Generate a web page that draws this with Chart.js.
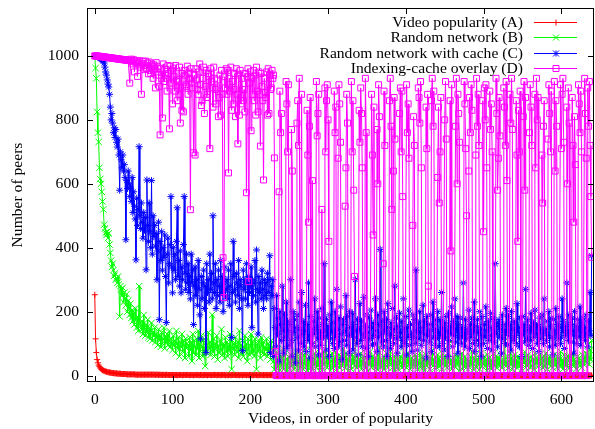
<!DOCTYPE html>
<html>
<head>
<meta charset="utf-8">
<script src="https://cdn.jsdelivr.net/npm/chart.js@4.4.0/dist/chart.umd.min.js"></script>
<style>
  html, body { margin: 0; padding: 0; background: #fff; }
  canvas { display: block; }
</style>
</head>
<body>
<canvas id="peersChart" width="595" height="429"></canvas>
<script>
// series names (legend)
const seriesNames = ['Video popularity (A)', 'Random network (B)', 'Random network with cache (C)', 'Indexing-cache overlay (D)'];
const xTicks = [0, 100, 200, 300, 400, 500, 600];
const yTicks = [0, 200, 400, 600, 800, 1000];

// values, one per video (rank 0..639)
const videoPopularity = [
  253,115,72,50,40,33,28,24,21,19, 17,16,15,14,13,12,11,11,10,10, 9,9,8,8,8,7,7,7,7,6, 6,6,6,6,5,5,5,5,5,5,
  5,4,4,4,4,4,4,4,4,4, 4,4,3,3,3,3,3,3,3,3, 3,3,3,3,3,3,3,3,3,3, 3,3,3,3,3,3,3,3,2,3,
  3,3,2,3,2,3,2,2,3,2, 2,2,3,2,2,2,2,2,2,2,
  2,2,2,2,2,2,1,2,2,2, 2,2,2,1,2,2,2,2,2,2, 2,2,1,2,2,2,2,1,2,2, 2,2,2,2,1,2,2,2,2,1,
  2,2,2,2,2,1,2,2,2,2, 1,2,2,2,2,2,2,1,2,2, 2,2,1,2,2,2,2,2,1,2, 2,1,2,2,2,1,2,2,2,2,
  2,2,2,1,2,2,1,2,2,2, 1,2,2,2,2,1,2,2,1,2, 2,2,1,2,1,2,2,2,2,1, 2,1,2,2,2,2,1,2,2,1,
  2,2,1,2,1,2,2,1,2,2, 1,2,2,1,2,2,1,2,1,2, 2,1,2,1,2,2,1,2,2,1, 1,2,1,2,2,1,2,1,2,1,
  2,1,1,2,1,2,1,2,1,2, 1,2,1,1,2,1,2,1,1,2, 1,1,2,1,2,1,1,2,1,1, 2,1,1,2,1,1,2,1,1,1,
  1,1,2,1,1,1,1,2,1,1, 1,1,1,1,2,1,1,1,1,1, 1,2,1,1,1,1,1,1,2,1, 1,1,1,1,1,2,1,1,1,1,
  1,1,1,2,1,1,1,1,1,0, 1,1,1,1,1,1,2,1,1,1, 1,0,1,1,1,1,1,1,1,1, 2,1,1,1,1,0,1,1,1,1,
  1,1,1,1,1,1,1,0,1,1, 1,1,0,1,1,1,1,1,1,1, 1,1,1,1,0,1,1,1,1,1, 0,1,1,1,1,1,1,0,1,1,
  1,1,1,0,1,1,1,1,1,0, 1,1,1,1,1,0,1,1,1,1, 1,0,1,1,1,1,0,1,1,1, 1,1,1,0,1,1,1,1,0,1,
  1,1,0,1,1,1,0,1,1,1, 0,1,1,1,0,1,1,1,1,0, 1,1,1,0,1,1,0,1,1,1, 1,0,1,1,1,0,1,1,0,1,
  1,1,0,1,1,1,0,1,1,0, 1,1,1,0,1,0,1,1,1,1, 0,1,1,0,1,1,1,0,1,1, 1,0,1,1,0,1,1,1,0,1,
  1,1,0,1,1,0,1,0,1,1, 0,1,1,1,0,1,0,1,1,0, 1,1,0,1,0,1,1,0,1,1, 1,0,1,1,0,1,0,1,1,0,
  1,1,0,1,1,0,1,0,1,1, 0,1,0,1,1,0,1,1,0,1, 1,0,1,0,1,1,0,1,0,1, 1,1,0,1,0,1,0,1,1,0,
  0,1,1,0,1,0,1,0,1,1, 1,0,1,0,1,1,0,1,0,1
];

const randomNetwork = [
  1000,962,930,825,760,731,650,615,600,575, 545,520,472,460,447,440,450,430,445,410,
  384,360,340,350,330,312,320,300,305,290, 310,285,185,280,270,250,275,230,260,240,
  220,255,200,235,210,190,225,180,205,170, 195,160,210,175,150,185,140,280,165,155,
  145,170,130,190,150,125,160,135,175,120, 150,115,140,165,110,135,125,150,105,130,
  120,95,145,110,125,90,135,100,115,150, 85,120,105,130,95,110,140,90,115,100,
  80,125,95,110,70,140,100,85,120,60, 105,90,130,75,110,95,55,115,85,100,
  95,60,120,80,105,45,130,70,110,90, 65,115,85,140,55,100,75,125,90,60,
  110,80,30,120,95,70,135,85,105,65, 90,190,75,115,60,100,85,125,50,95,
  70,110,80,145,65,100,90,55,120,75, 105,60,95,80,130,70,20,110,85,100,
  65,120,90,75,105,55,140,80,95,70, 110,60,90,125,75,100,45,115,85,65,
  95,130,70,105,80,60,115,90,20,100, 75,110,85,55,120,95,70,105,65,90,
  80,115,60,100,75,95,50,110,85,70,
  45,20,60,35,75,25,50,15,65,40, 30,55,85,20,45,70,35,10,50,60, 25,40,65,30,120,45,20,55,35,75,
  50,15,40,60,25,70,35,45,20,65, 35,80,30,50,15,45,60,25,40,95, 20,55,35,70,40,25,60,30,50,15,
  65,30,45,20,75,35,55,140,40,25, 50,35,60,15,45,70,25,40,55,30, 75,20,50,35,65,25,45,60,30,85,
  40,55,25,70,35,50,15,60,45,30, 20,65,40,55,30,110,45,25,60,35, 50,30,70,20,45,60,35,55,25,40,
  65,15,50,35,75,40,25,60,30,45, 55,30,45,20,65,35,90,25,50,40, 30,60,20,50,35,70,45,25,55,40,
  75,35,55,25,45,15,60,40,30,65, 20,50,35,60,40,25,55,125,30,45, 60,25,45,70,35,50,20,55,40,30,
  50,40,65,30,55,20,45,35,70,25, 35,60,25,50,15,45,65,30,55,40, 45,20,55,35,80,30,50,25,60,40,
  25,65,40,55,30,45,20,70,35,50, 60,30,45,25,55,40,100,35,50,20, 40,55,30,65,25,50,35,60,45,15,
  55,35,70,20,45,30,60,40,25,50, 30,45,25,60,35,75,40,20,55,45, 65,25,50,35,55,20,45,70,30,40,
  45,60,30,50,15,65,35,55,25,40, 20,50,40,70,30,45,60,25,55,35, 55,30,65,40,25,50,35,120,45,30,
  40,60,25,45,70,35,55,20,50,30, 65,35,50,25,60,40,30,55,45,20, 35,55,40,75,25,50,30,65,40,55,
  25,45,60,30,50,20,70,35,55,40, 50,30,45,65,35,55,25,45,60,30, 70,40,20,55,35,60,45,30,50,25,
  45,65,35,50,25,60,40,55,30,75, 30,50,20,45,65,35,55,40,25,60, 55,25,60,35,45,70,30,50,40,20,
  40,60,35,55,30,45,25,65,50,35, 60,45,70,40,95,55,35,80,50,110
];

const randomCache = [
  1000,1000,999,998,997,996,995,993,991,989, 987,984,978,965,950,940,925,912,903,880,
  840,800,820,790,760,775,745,770,730,715, 740,690,580,700,675,650,690,640,660,620,
  425,610,585,640,600,560,590,545,620,510, 575,530,490,362,555,470,520,716,500,460,
  540,480,430,510,455,495,331,612,470,420, 540,450,400,610,380,500,435,470,405,445,
  300,390,480,175,420,360,450,330,400,370, 440,310,166,380,430,290,350,410,560,340,
  259,400,330,380,300,420,525,310,360,280, 390,259,340,300,410,560,320,270,380,290,
  350,260,310,240,380,290,330,160,280,340, 250,300,220,360,270,190,115,310,240,290,
  330,210,280,72,350,260,300,230,380,270, 320,240,500,290,260,350,210,300,250,330,
  280,230,360,260,310,200,290,340,250,270, 300,240,330,220,280,350,119,260,420,310,
  270,230,320,290,250,360,210,300,280,240, 78,330,270,300,240,350,290,220,310,260,
  280,340,150,300,250,290,360,230,393,270, 130,310,260,290,240,330,270,210,300,250,
  290,240,320,260,300,375,72,280,250,300,
  60,210,150,90,250,130,180,45,200,160, 110,280,140,70,190,120,230,85,170,140, 95,160,300,110,60,200,135,175,40,150,
  190,120,80,230,145,100,260,130,170,90, 140,220,75,160,110,290,125,55,185,145, 100,170,130,240,90,150,200,115,65,180,
  135,95,210,160,120,350,140,80,175,125, 155,60,190,115,230,135,100,165,85,200, 120,270,145,90,180,105,215,130,50,160,
  175,110,140,250,95,185,125,70,200,150, 130,195,80,160,120,300,140,100,175,65, 145,225,110,170,90,130,245,120,155,85,
  190,135,60,180,115,205,150,95,165,125, 100,240,140,75,190,120,160,395,130,105, 170,90,200,140,110,175,60,225,150,130,
  85,165,125,210,100,145,280,115,180,70, 155,120,195,135,90,170,110,240,145,100, 185,65,150,120,205,95,160,130,75,190,
  120,175,100,330,140,80,165,115,200,135, 95,150,220,110,170,130,55,185,125,160, 140,105,190,75,160,230,120,145,95,175,
  115,200,135,90,175,125,260,100,150,80, 165,120,185,140,60,195,110,155,130,215, 90,170,125,240,105,145,185,70,160,120,
  180,100,150,125,290,135,90,175,115,145, 130,205,85,160,120,180,100,140,230,75, 155,110,175,135,95,200,145,60,185,125,
  100,160,120,215,140,85,170,110,150,195, 125,80,180,140,105,350,130,165,90,155, 175,120,145,70,190,115,160,135,100,210,
  140,95,185,125,160,80,200,145,110,170, 120,165,100,225,135,150,90,180,125,60, 185,130,160,105,270,140,115,175,95,150,
  110,195,140,85,165,120,205,130,155,100, 160,75,180,145,115,190,130,100,240,135, 145,110,170,125,200,90,155,180,120,65,
  175,140,95,210,130,160,115,185,150,100, 120,240,135,170,85,155,125,290,140,110, 190,130,160,105,180,140,70,200,125,155,
  100,175,145,120,215,95,165,135,180,120, 150,110,190,130,90,170,140,260,125,375
];

const indexingOverlay = [
  1000,1000,1000,1000,999,999,999,998,998,998, 997,997,997,996,996,996,995,995,995,994,
  994,994,993,993,993,992,992,992,991,991, 991,990,990,990,989,989,989,988,988,988,
  987,987,987,986,986,
  915,985,990,982,975,988,950,984,978,986, 936,980,972,985,965,880,976,983,958,970,
  984,962,960,978,944,981,955,945,975,968, 930,972,960,900,979,950,966,940,905,753,
  960,930,806,975,920,958,940,930,890,970, 945,772,968,915,955,850,962,935,890,970,
  925,860,920,880,965,790,945,830,900,825, 955,940,910,905,968,880,945,930,519,960,
  915,900,697,940,690,960,925,895,880,950, 975,910,845,860,930,965,820,905,955,870,
  880,945,935,710,960,920,900,840,965,930, 895,850,900,925,810,870,940,815,955,880,
  369,244,935,900,960,880,955,634,930,890, 965,830,920,850,895,945,810,960,880,725,
  940,815,955,850,930,895,860,895,825,945, 572,935,960,294,915,950,766,930,880,955,
  860,940,815,965,890,825,950,880,718,945, 905,860,612,930,885,870,950,815,960,820,
  940,895,900,955,930,
  940,681,75,0,0,0,0,575,890,760, 820,0,0,0,0,0,920,850,700,910, 0,0,0,770,640,0,0,0,0,0,
  790,860,720,930,0,0,880,0,0,0, 0,0,0,830,690,480,780,870,0,0, 610,0,0,0,0,920,750,820,880,0,
  0,0,520,0,0,0,900,700,860,910, 800,420,0,0,0,0,0,0,890,760, 840,0,0,680,910,850,730,0,0,0,
  0,0,530,650,880,790,0,0,0,0, 920,700,860,580,310,0,0,0,0,0, 830,730,900,820,650,0,0,0,930,760,
  0,0,0,0,0,0,880,690,440,840, 0,0,0,770,600,910,810,0,0,0, 0,350,890,720,0,0,0,0,0,860,
  930,780,520,0,640,870,740,0,0,0, 0,0,820,900,700,890,560,0,0,0, 0,910,760,850,680,0,0,0,0,470,
  810,720,0,0,0,0,900,870,790,920, 650,0,0,0,0,0,840,710,880,280, 0,0,0,860,930,780,890,0,0,0,
  0,620,840,540,700,870,0,0,0,0, 800,920,740,0,0,0,0,860,390,910, 0,0,0,0,780,930,600,880,820,730,
  0,0,0,0,0,920,850,710,500,0, 0,640,870,760,910,830,0,0,0,0, 690,930,780,880,720,0,0,0,0,860,
  450,900,800,910,650,0,0,0,890,770, 850,700,0,0,0,0,930,820,580,680, 870,750,0,0,0,0,900,840,720,920,
  610,0,0,0,880,790,930,770,0,0, 0,0,860,690,420,830,700,890,0,0, 0,810,920,580,870,0,0,0,0,760,
  910,840,720,0,0,0,880,650,930,800, 870,0,0,0,0,690,540,780,860,0, 0,0,0,740,910,820,700,890,0,0,
  0,920,640,860,780,0,0,0,0,910, 710,880,930,730,0,0,0,840,600,900, 790,0,0,0,870,720,480,810,660,0,
  0,0,910,850,760,890,700,0,0,0, 930,820,680,0,900,780,920,720,560,370
];

const serif = "'Liberation Serif', 'Times New Roman', serif";
const fontSize = 15.6;
const colors = ['#ff0000', '#00ff00', '#0000ff', '#ff00ff'];
const markers = ['cross', 'crossRot', 'star', 'rect'];
const radii = [3, 4.5, 3.5, 4.2];

function toPoints(values) {
  return values.map((v, i) => ({ x: i, y: v }));
}

const allSeries = [videoPopularity, randomNetwork, randomCache, indexingOverlay];

const datasets = allSeries.map((vals, k) => ({
  label: seriesNames[k],
  data: toPoints(vals),
  borderColor: colors[k],
  backgroundColor: 'rgba(0,0,0,0)',
  borderWidth: 1,
  pointStyle: markers[k],
  pointRadius: radii[k],
  pointBorderWidth: 1,
  pointBorderColor: colors[k],
  pointBackgroundColor: 'rgba(0,0,0,0)',
  tension: 0,
  order: 4 - k // D on top, like gnuplot
}));

// draw a gnuplot-style marker
function mark(ctx, type, x, y) {
  ctx.beginPath();
  if (type === 'cross' || type === 'star') {
    ctx.moveTo(x - 3, y); ctx.lineTo(x + 3, y);
    ctx.moveTo(x, y - 3); ctx.lineTo(x, y + 3);
  }
  if (type === 'crossRot' || type === 'star') {
    ctx.moveTo(x - 3, y - 3); ctx.lineTo(x + 3, y + 3);
    ctx.moveTo(x - 3, y + 3); ctx.lineTo(x + 3, y - 3);
  }
  if (type === 'rect') {
    ctx.rect(x - 3, y - 3, 6, 6);
  }
  ctx.stroke();
}

const framePlugin = {
  id: 'framePlugin',
  afterDraw(chart) {
    const { ctx, chartArea: a } = chart;
    const xs = chart.scales.x, ys = chart.scales.y;
    ctx.save();
    ctx.strokeStyle = '#000';
    ctx.lineWidth = 1;
    ctx.strokeRect(a.left + 0.5, a.top + 0.5, a.right - a.left - 1, a.bottom - a.top - 1);
    ctx.beginPath();
    xTicks.forEach(v => {
      const px = Math.round(xs.getPixelForValue(v)) + 0.5;
      ctx.moveTo(px, a.bottom); ctx.lineTo(px, a.bottom - 6);
      ctx.moveTo(px, a.top); ctx.lineTo(px, a.top + 6);
    });
    yTicks.forEach(v => {
      const py = Math.round(ys.getPixelForValue(v)) + 0.5;
      ctx.moveTo(a.left, py); ctx.lineTo(a.left + 6, py);
      ctx.moveTo(a.right, py); ctx.lineTo(a.right - 6, py);
    });
    ctx.stroke();

    // key, top right inside the plot
    ctx.font = fontSize + 'px ' + serif;
    ctx.textAlign = 'right';
    ctx.textBaseline = 'middle';
    seriesNames.forEach((name, k) => {
      const ry = Math.round(22 + k * 15.3) + 0.5;
      ctx.fillStyle = '#000';
      ctx.fillText(name, 523, ry);
      ctx.strokeStyle = colors[k];
      ctx.beginPath();
      ctx.moveTo(534, ry); ctx.lineTo(577, ry);
      ctx.stroke();
      mark(ctx, markers[k], 556, ry);
    });
    ctx.restore();
  }
};

const tickFont = { family: serif, size: fontSize };

new Chart(document.getElementById('peersChart'), {
  type: 'line',
  data: { datasets: datasets },
  options: {
    responsive: false,
    animation: false,
    events: [],
    layout: { autoPadding: false, padding: { top: 8, right: 1, left: 0, bottom: 0 } },
    plugins: {
      legend: { display: false },
      tooltip: { enabled: false }
    },
    scales: {
      x: {
        type: 'linear',
        min: -10,
        max: 642,
        afterBuildTicks: s => { s.ticks = xTicks.map(v => ({ value: v })); },
        afterFit: s => { s.height = 47; s.paddingLeft = 0; s.paddingRight = 0; },
        grid: { display: false, drawTicks: false },
        border: { display: false },
        ticks: { font: tickFont, color: '#000', padding: 9, maxRotation: 0, callback: v => String(v) },
        title: {
          display: true,
          text: 'Videos, in order of popularity',
          font: tickFont,
          color: '#000',
          padding: { top: 0, bottom: 1 }
        }
      },
      y: {
        type: 'linear',
        min: -20,
        max: 1150,
        afterBuildTicks: s => { s.ticks = yTicks.map(v => ({ value: v })); },
        afterFit: s => { s.width = 87; s.paddingTop = 0; s.paddingBottom = 0; },
        grid: { display: false, drawTicks: false },
        border: { display: false },
        ticks: { font: tickFont, color: '#000', padding: 8, callback: v => String(v) },
        title: {
          display: true,
          text: 'Number of peers',
          font: tickFont,
          color: '#000',
          padding: { top: 9, bottom: 0 }
        }
      }
    }
  },
  plugins: [framePlugin]
});
</script>
</body>
</html>
